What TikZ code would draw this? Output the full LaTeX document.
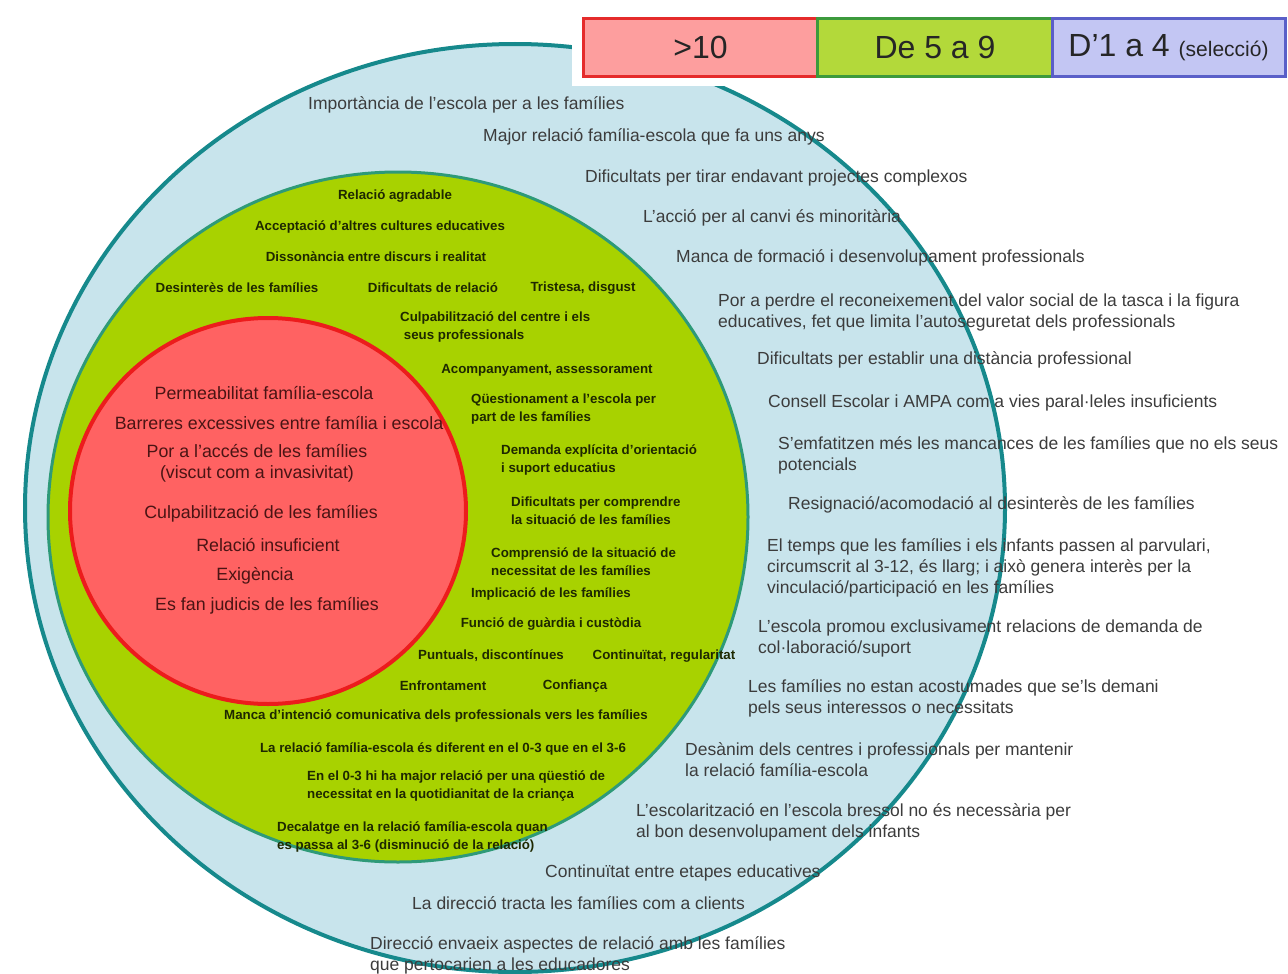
\documentclass[tikz,border=0pt]{standalone}
\usepackage{fontspec}
\setmainfont{Liberation Sans}
\definecolor{outerfill}{HTML}{C8E4EC}
\definecolor{outerline}{HTML}{16898C}
\definecolor{midfill}{HTML}{A8D200}
\definecolor{midline}{HTML}{2E9A78}
\definecolor{innerfill}{HTML}{FF6262}
\definecolor{innerline}{HTML}{EC1C1C}
\definecolor{bluetext}{HTML}{3C3C3C}
\definecolor{greentext}{HTML}{1E2800}
\definecolor{redtext}{HTML}{4A1414}
\definecolor{legred}{HTML}{FD9E9E}
\definecolor{legredline}{HTML}{E52B2B}
\definecolor{leggreen}{HTML}{B3D93A}
\definecolor{leggreenline}{HTML}{3C9A3C}
\definecolor{legblue}{HTML}{C3C6F3}
\definecolor{legblueline}{HTML}{5A5FC8}

\begin{document}
\begin{tikzpicture}[x=1pt,y=-1pt,
    outertxt/.style={anchor=west,align=left,inner sep=0pt,text=bluetext,
      font=\fontsize{17.5}{21}\selectfont},
    midtxt/.style={inner sep=0pt,text=greentext,align=center,
      font=\bfseries\fontsize{13.3}{18}\selectfont},
    midleft/.style={midtxt,anchor=west,align=left},
    innertxt/.style={inner sep=0pt,text=redtext,align=center,
      font=\fontsize{17.8}{21}\selectfont},
    legbox/.style={draw,line width=3pt,minimum width=235pt,minimum height=58pt,
      inner sep=0pt,font=\fontsize{32}{32}\selectfont,text=black!85}]

      \useasboundingbox (0,0) rectangle (1288,974);

      % the three rings
      \coordinate (O) at (515,508);
      \coordinate (M) at (398,517);
      \coordinate (I) at (268,511);
      \draw[line width=4pt,outerline,fill=outerfill] (O) ellipse [x radius=490pt,y radius=464pt];
      \draw[line width=3pt,midline,fill=midfill] (M) ellipse [x radius=350pt,y radius=345pt];
      \draw[line width=4pt,innerline,fill=innerfill] (I) ellipse [x radius=198pt,y radius=193pt];

      % legend
      \fill[white] (572,6) rectangle (1288,86);
      \node[legbox,fill=legred,draw=legredline] (more) at (700.5,47.5) {>10};
      \node[legbox,fill=leggreen,draw=leggreenline] (mid) at (935,47.5) {De 5 a 9};
      \node[legbox,fill=legblue,draw=legblueline,minimum width=233pt] (few) at (1168.5,47.5)
        {D'1 a 4 {\fontsize{21}{21}\selectfont (selecció)}};

      % D'1 a 4
      \node[outertxt] (b1) at (308,105) {Importància de l'escola per a les famílies};
      \node[outertxt] (b2) at (483,137) {Major relació família-escola que fa uns anys};
      \node[outertxt] (b3) at (585,178) {Dificultats per tirar endavant projectes complexos};
      \node[outertxt] (b4) at (643,218) {L'acció per al canvi és minoritària};
      \node[outertxt] (b5) at (676,258) {Manca de formació i desenvolupament professionals};
      \node[outertxt] (b6) at (718,312) {Por a perdre el reconeixement del valor social de la tasca i la figura\\
        educatives, fet que limita l'autoseguretat dels professionals};
      \node[outertxt] (b7) at (757,360) {Dificultats per establir una distància professional};
      \node[outertxt] (b8) at (768,403) {Consell Escolar i AMPA com a vies paral·leles insuficients};
      \node[outertxt] (b9) at (778,455) {S'emfatitzen més les mancances de les famílies que no els seus\\
        potencials};
      \node[outertxt] (b10) at (788,505) {Resignació/acomodació al desinterès de les famílies};
      \node[outertxt] (b11) at (767,568) {El temps que les famílies i els infants passen al parvulari,\\
        circumscrit al 3-12, és llarg; i això genera interès per la\\
        vinculació/participació en les famílies};
      \node[outertxt] (b12) at (758,638) {L'escola promou exclusivament relacions de demanda de\\
        col·laboració/suport};
      \node[outertxt] (b13) at (748,698) {Les famílies no estan acostumades que se'ls demani\\
        pels seus interessos o necessitats};
      \node[outertxt] (b14) at (685,760) {Desànim dels centres i professionals per mantenir\\
        la relació família-escola};
      \node[outertxt] (b15) at (636,822) {L'escolarització en l'escola bressol no és necessària per\\
        al bon desenvolupament dels infants};
      \node[outertxt] (b16) at (545,873) {Continuïtat entre etapes educatives};
      \node[outertxt] (b17) at (412,903) {La direcció tracta les famílies com a clients};
      \node[outertxt] (b18) at (370,955) {Direcció envaeix aspectes de relació amb les famílies\\
        que pertocarien a les educadores};

      % de 5 a 9
      \node[midtxt] (g1) at (395,196) {Relació agradable};
      \node[midtxt] (g2) at (380,227) {Acceptació d'altres cultures educatives};
      \node[midtxt] (g3) at (376,257) {Dissonància entre discurs i realitat};
      \node[midtxt] (g4) at (237,288) {Desinterès de les famílies};
      \node[midtxt] (g5) at (433,288) {Dificultats de relació};
      \node[midtxt] (g6) at (583,288) {Tristesa, disgust};
      \node[midleft] (g7) at (400,327) {Culpabilització del centre i els\\ \ seus professionals};
      \node[midtxt] (g8) at (547,370) {Acompanyament, assessorament};
      \node[midleft] (g9) at (471,409) {Qüestionament a l'escola per\\part de les famílies};
      \node[midleft] (g10) at (501,460) {Demanda explícita d'orientació\\i suport educatius};
      \node[midleft] (g11) at (511,511) {Dificultats per comprendre\\la situació de les famílies};
      \node[midleft] (g12) at (491,562) {Comprensió de la situació de\\necessitat de les famílies};
      \node[midtxt] (g13) at (551,594) {Implicació de les famílies};
      \node[midtxt] (g14) at (551,624) {Funció de guàrdia i custòdia};
      \node[midtxt] (g15) at (491,656) {Puntuals, discontínues};
      \node[midtxt] (g16) at (664,656) {Continuïtat, regularitat};
      \node[midtxt] (g17) at (443,686) {Enfrontament};
      \node[midtxt] (g18) at (575,686) {Confiança};
      \node[midtxt] (g19) at (436,716) {Manca d'intenció comunicativa dels professionals vers les famílies};
      \node[midtxt] (g20) at (443,749) {La relació família-escola és diferent en el 0-3 que en el 3-6};
      \node[midleft] (g21) at (307,786) {En el 0-3 hi ha major relació per una qüestió de\\
        necessitat en la quotidianitat de la criança};
      \node[midleft] (g22) at (277,837) {Decalatge en la relació família-escola quan\\
        es passa al 3-6 (disminució de la relació)};

      % >10
      \node[innertxt] (r1) at (264,393) {Permeabilitat família-escola};
      \node[innertxt] (r2) at (279,423) {Barreres excessives entre família i escola};
      \node[innertxt] (r3) at (257,463) {Por a l'accés de les famílies\\(viscut com a invasivitat)};
      \node[innertxt] (r4) at (261,514) {Culpabilització de les famílies};
      \node[innertxt] (r5) at (268,545) {Relació insuficient};
      \node[innertxt] (r6) at (255,576) {Exigència};
      \node[innertxt] (r7) at (267,606) {Es fan judicis de les famílies};
  \end{tikzpicture}
\end{document}
